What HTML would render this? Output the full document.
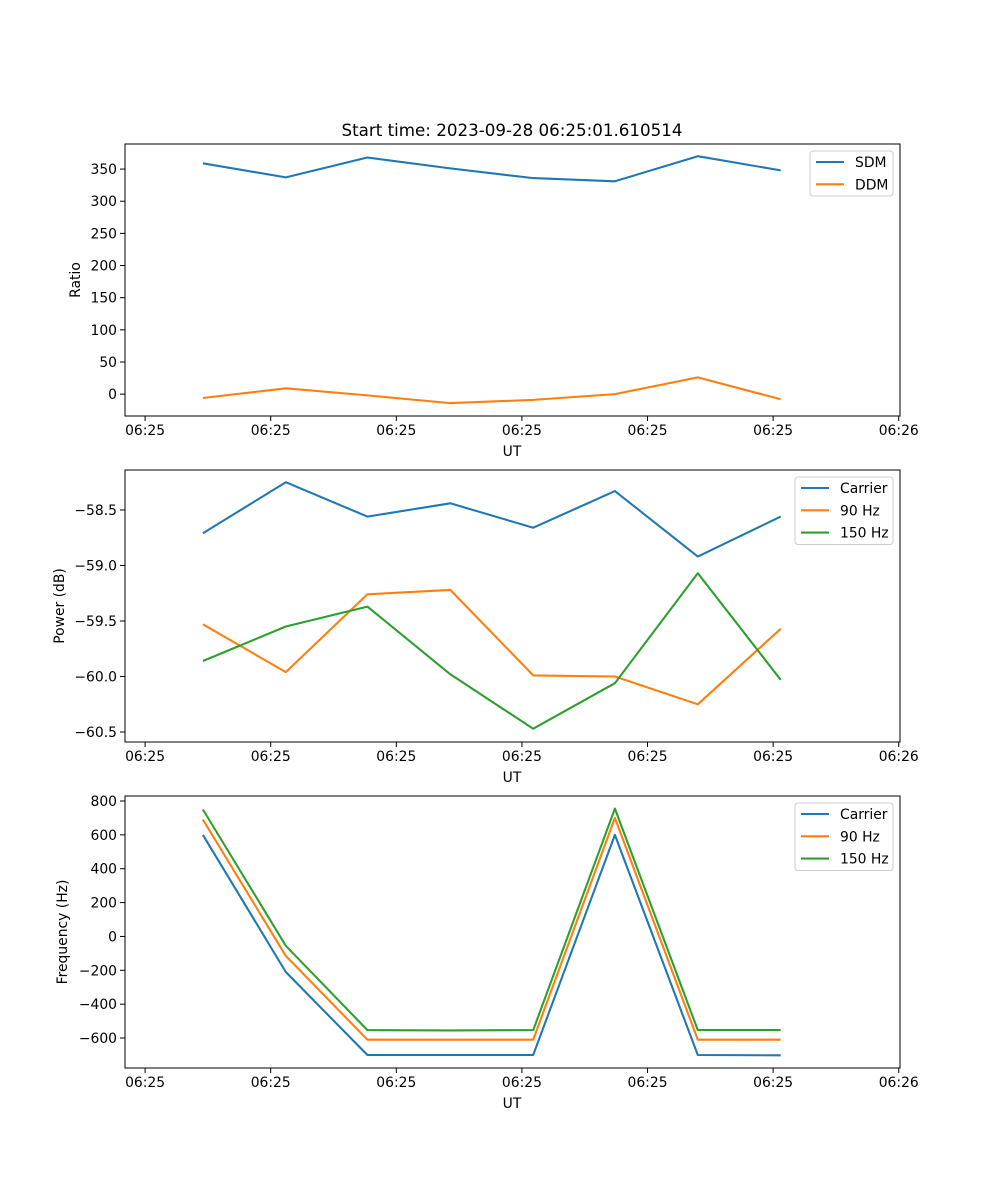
<!DOCTYPE html>
<html><head><meta charset="utf-8"><style>
body{margin:0;background:#fff}
svg{display:block;font-family:"DejaVu Sans","Liberation Sans",sans-serif}
</style></head><body>
<svg id="fig" width="1000" height="1200" viewBox="0 0 1000 1200" xmlns="http://www.w3.org/2000/svg">
<rect width="1000" height="1200" fill="#fff"/>
<text x="512" y="136" font-size="16.7" text-anchor="middle">Start time: 2023-09-28 06:25:01.610514</text>
</svg>
<script>
// shared x data (seconds offset from first tick)
const xValues = [0.46, 1.12, 1.77, 2.43, 3.09, 3.74, 4.40, 5.06];
const xTickValues = [0, 1, 2, 3, 4, 5, 6];
const xTickLabels = ["06:25","06:25","06:25","06:25","06:25","06:25","06:26"];
// panel 1
const sdm = [359, 337, 368, 351, 336, 331, 370, 348];
const ddm = [-6, 9, -2, -14, -9, 0, 26, -8];
const ratioTicks = [0, 50, 100, 150, 200, 250, 300, 350];
// panel 2
const powCarrier = [-58.71, -58.25, -58.56, -58.44, -58.66, -58.33, -58.92, -58.56];
const pow90 = [-59.53, -59.96, -59.26, -59.22, -59.99, -60.00, -60.25, -59.57];
const pow150 = [-59.86, -59.55, -59.37, -59.98, -60.47, -60.06, -59.07, -60.03];
const powTicks = [-58.5, -59.0, -59.5, -60.0, -60.5];
// panel 3
const freqCarrier = [600, -210, -700, -700, -700, 600, -700, -702];
const freq90 = [690, -115, -610, -610, -610, 700, -610, -610];
const freq150 = [750, -55, -553, -555, -553, 755, -553, -553];
const freqTicks = [800, 600, 400, 200, 0, -200, -400, -600, -800];

const NS = "http://www.w3.org/2000/svg";
const svg = document.getElementById("fig");
function mk(tag, attrs, parent) {
  const e = document.createElementNS(NS, tag);
  for (const k in attrs) e.setAttribute(k, attrs[k]);
  (parent || svg).appendChild(e);
  return e;
}
const L = 125, R = 900;
const xMin = -0.16, xMax = 6.01;
const xs = v => L + (v - xMin) / (xMax - xMin) * (R - L);

function panel(cfg) {
  const T = cfg.top, B = cfg.top + 272;
  const ys = v => T + (cfg.yMax - v) / (cfg.yMax - cfg.yMin) * (B - T);
  const g = mk("g", {});
  
  
  cfg.series.forEach(s => {
    const pts = s.data.map((v, i) => xs(xValues[i]).toFixed(1) + "," + ys(v).toFixed(1)).join(" ");
    const pl = mk("polyline", {points: pts, fill: "none", stroke: s.color, "stroke-width": 2.08, "stroke-linejoin": "round"}, g);
    
    
  });
  mk("rect", {x: L, y: T, width: R - L, height: B - T, fill: "none", stroke: "#000", "stroke-width": 1}, g);
  xTickValues.forEach((v, i) => {
    const x = xs(v);
    mk("line", {x1: x, x2: x, y1: B, y2: B + 5, stroke: "#000"}, g);
    const t = mk("text", {x: x, y: B + 19, "font-size": 13.9, "text-anchor": "middle"}, g);
    
    
    t.textContent = xTickLabels[i];
  });
  cfg.ticks.forEach(v => {
    const y = ys(v);
    if (y < T - 1 || y > B + 1) return;
    mk("line", {x1: L - 5, x2: L, y1: y, y2: y, stroke: "#000"}, g);
    const t = mk("text", {x: L - 8, y: y + 5, "font-size": 13.9, "text-anchor": "end"}, g);
    
    
    t.textContent = cfg.fmt(v);
  });
  const xl = mk("text", {x: 512, y: B + 40, "font-size": 13.9, "text-anchor": "middle"}, g);
  
  
  xl.textContent = "UT";
  const yl = mk("text", {x: 0, y: 0, "font-size": 13.9, "text-anchor": "middle", transform: `translate(${cfg.ylx},${(T + B) / 2}) rotate(-90)`}, g);
  
  
  yl.textContent = cfg.ylabel;
  const lg = cfg.legend;
  const lr = mk("rect", {x: lg.x, y: T + 7, width: 893 - lg.x, height: 22.5 * cfg.series.length, rx: 3, fill: "#fff", "fill-opacity": 0.8, stroke: "#ccc"}, g);
  
  
  cfg.series.forEach((s, i) => {
    const y = T + 18 + 22.3 * i;
    mk("line", {x1: lg.x + 6, x2: lg.x + 34, y1: y, y2: y, stroke: s.color, "stroke-width": 2.08}, g);
    const t = mk("text", {x: lg.x + 45, y: y + 5, "font-size": 13.9}, g);
    
    
    t.textContent = s.label;
  });
}
const fmtMinus = s => s.replace("-", "\u2212");
panel({name: "ratio-panel", top: 144, yMin: -34, yMax: 389, ticks: ratioTicks, fmt: v => String(v), ylabel: "Ratio", ylx: 80,
  legend: {x: 810}, series: [{key: "sdm-line", label: "SDM", color: "#1f77b4", data: sdm}, {key: "ddm-line", label: "DDM", color: "#ff7f0e", data: ddm}]});
panel({name: "power-panel", top: 470, yMin: -60.59, yMax: -58.14, ticks: powTicks, fmt: v => fmtMinus(v.toFixed(1)), ylabel: "Power (dB)", ylx: 64,
  legend: {x: 795}, series: [{key: "carrier-power-line", label: "Carrier", color: "#1f77b4", data: powCarrier}, {key: "90hz-power-line", label: "90 Hz", color: "#ff7f0e", data: pow90}, {key: "150hz-power-line", label: "150 Hz", color: "#2ca02c", data: pow150}]});
panel({name: "frequency-panel", top: 796, yMin: -777, yMax: 829.5, ticks: freqTicks, fmt: v => fmtMinus(String(v)), ylabel: "Frequency (Hz)", ylx: 67,
  legend: {x: 795}, series: [{key: "carrier-freq-line", label: "Carrier", color: "#1f77b4", data: freqCarrier}, {key: "90hz-freq-line", label: "90 Hz", color: "#ff7f0e", data: freq90}, {key: "150hz-freq-line", label: "150 Hz", color: "#2ca02c", data: freq150}]});
</script>
</body></html>
